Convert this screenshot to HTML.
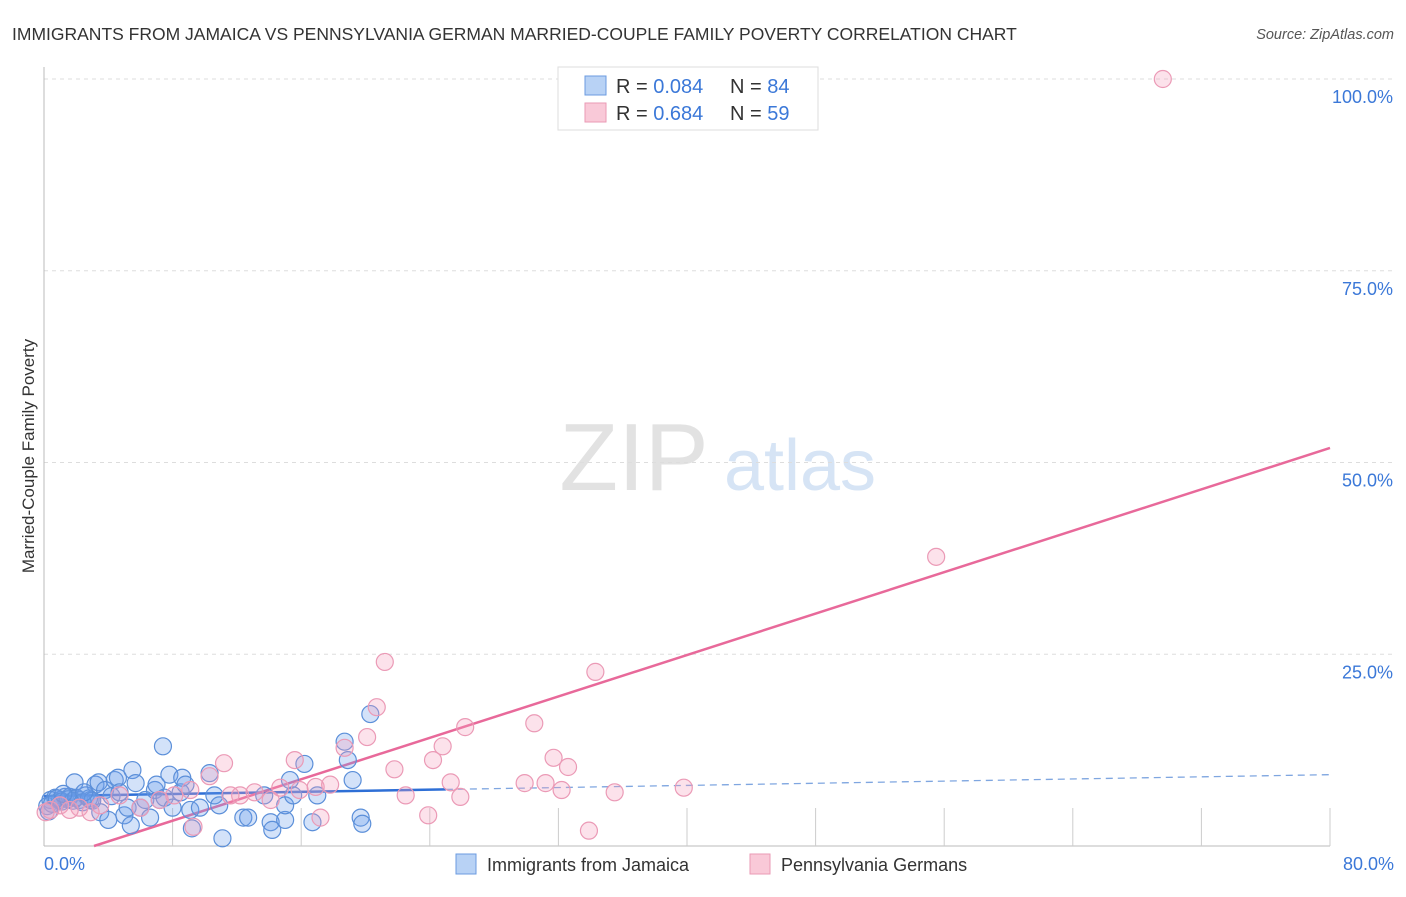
<!DOCTYPE html>
<html><head><meta charset="utf-8"><style>
body{margin:0;background:#fff;font-family:"Liberation Sans",sans-serif;}
svg text{font-family:"Liberation Sans",sans-serif;}
</style></head><body>
<svg id="chart" width="1406" height="892" xmlns="http://www.w3.org/2000/svg">
<text x="12" y="40" font-size="17.5" fill="#333">IMMIGRANTS FROM JAMAICA VS PENNSYLVANIA GERMAN MARRIED-COUPLE FAMILY POVERTY CORRELATION CHART</text>
<text x="1394" y="39" font-size="14.5" fill="#555" font-style="italic" text-anchor="end">Source: ZipAtlas.com</text>
<text transform="translate(34,456) rotate(-90)" font-size="17" fill="#333" text-anchor="middle">Married-Couple Family Poverty</text>
<g>
<text x="634" y="490" font-size="96" fill="#e2e2e2" text-anchor="middle" font-family="Liberation Serif, serif">ZIP</text>
<text x="800" y="490" font-size="72" fill="#d6e4f5" text-anchor="middle">atlas</text>
</g>
<g id="grid"></g><g id="axes"></g><g id="trend"></g><g id="points"></g>
<g>
<rect x="558" y="67" width="260" height="63" fill="#fff" stroke="#ddd"/>
<rect x="585" y="76" width="21" height="19" fill="#b8d2f5" stroke="#6b9be0"/>
<rect x="585" y="103" width="21" height="19" fill="#f9c9d8" stroke="#ea9ab5"/>
<text x="616" y="93" font-size="20" fill="#333">R = <tspan fill="#3b78d8">0.084</tspan></text>
<text x="730" y="93" font-size="20" fill="#333">N = <tspan fill="#3b78d8">84</tspan></text>
<text x="616" y="120" font-size="20" fill="#333">R = <tspan fill="#3b78d8">0.684</tspan></text>
<text x="730" y="120" font-size="20" fill="#333">N = <tspan fill="#3b78d8">59</tspan></text>
</g>
<g>
<rect x="456" y="854" width="20" height="20" fill="#b8d2f5" stroke="#6b9be0"/>
<text x="487" y="871" font-size="18" fill="#333">Immigrants from Jamaica</text>
<rect x="750" y="854" width="20" height="20" fill="#f9c9d8" stroke="#ea9ab5"/>
<text x="781" y="871" font-size="18" fill="#333">Pennsylvania Germans</text>
</g>
</svg>
<script>
const yTicks=[25,50,75,100];
const yTickLabels=["25.0%","50.0%","75.0%","100.0%"];
const xTickVals=[8,16,24,32,40,48,56,64,72,80];
const xEndLabels=["0.0%","80.0%"];
const blueX=[0.2,0.4,0.7,1.0,1.3,1.6,1.9,2.2,2.6,2.9,3.2,3.4,3.5,3.8,4.0,4.2,4.4,4.6,4.7,5.0,5.2,5.4,5.5,5.7,6.0,6.3,6.6,6.9,7.0,7.2,7.4,7.5,7.8,8.0,8.5,8.6,8.8,9.1,9.2,9.7,10.3,10.6,11.1,10.9,12.4,12.7,13.7,14.1,14.2,15.0,15.0,15.3,15.5,16.2,16.7,17.0,18.7,18.9,19.2,19.7,19.8,20.3,0.5,0.8,1.1,1.5,1.8,2.0,2.4,2.8,3.0,0.3,1.2,2.5];
const blueY=[5.2,6.0,6.3,6.0,6.4,6.4,8.3,6.0,6.6,6.0,8.0,8.3,4.4,7.3,3.4,6.5,8.6,8.9,7.0,4.0,5.0,2.7,9.9,8.2,5.0,6.0,3.7,7.3,8.0,6.0,13.0,6.3,9.3,5.0,7.0,8.9,8.0,4.7,2.3,5.0,9.5,6.6,1.0,5.3,3.7,3.7,6.6,3.1,2.1,3.4,5.3,8.6,6.6,10.7,3.1,6.6,13.6,11.2,8.6,3.7,2.9,17.2,5.5,6.2,5.8,6.1,5.9,6.3,5.7,6.2,5.9,4.5,6.8,7.0];
const pinkX=[69.6,55.5,34.3,21.2,20.7,30.5,26.2,20.1,24.8,18.7,31.7,32.6,15.6,11.2,24.2,21.8,10.3,25.3,22.5,29.9,31.2,32.2,35.5,39.8,25.9,17.2,23.9,33.9,9.3,14.1,12.2,13.1,14.7,15.9,16.9,17.8,9.1,7.2,4.7,3.5,2.2,1.0,0.4,6.0,8.1,11.6,0.1,1.6,2.9];
const pinkY=[100,37.7,22.7,24.0,18.1,16.0,15.5,14.2,13.0,12.8,11.5,10.3,11.2,10.8,11.2,10.0,9.1,8.3,6.6,8.2,8.2,7.3,7.0,7.6,6.4,3.7,4.0,2.0,2.5,6.0,6.6,7.0,7.6,7.3,7.7,8.0,7.3,6.0,6.6,5.3,5.0,5.3,4.7,5.0,6.6,6.6,4.4,4.7,4.4];
const blueTrend=[6.5,9.3];
const pinkTrend=[-2.1,51.9];
const blueSolidEnd=25;

const NS="http://www.w3.org/2000/svg";
const X0=44,X1=1330,Y0=846,Y100=79;
function sx(v){return X0+v/80*(X1-X0);}
function sy(v){return Y0-v/100*(Y0-Y100);}
function mk(tag,attrs,parent){const e=document.createElementNS(NS,tag);for(const k in attrs)e.setAttribute(k,attrs[k]);parent.appendChild(e);return e;}
const grid=document.getElementById('grid'),axes=document.getElementById('axes'),trend=document.getElementById('trend'),pts=document.getElementById('points');
yTicks.forEach((t,i)=>{
  const l=mk('line',{x1:X0,x2:1394,y1:sy(t),y2:sy(t),stroke:'#ddd','stroke-dasharray':'4,4'},grid);
  
  
  const tx=mk('text',{x:1393,y:sy(t)+24,'font-size':18,fill:'#3b78d8','text-anchor':'end'},grid);
  tx.textContent=yTickLabels[i];
  
  
});
let a=mk('line',{x1:X0,x2:X0,y1:67,y2:Y0,stroke:'#bbb'},axes);


a=mk('line',{x1:X0,x2:X1,y1:Y0,y2:Y0,stroke:'#bbb'},axes);


xTickVals.forEach(v=>{
  const t=mk('line',{x1:sx(v),x2:sx(v),y1:Y0-38,y2:Y0,stroke:'#ccc'},axes);
  
  
});
let xl=mk('text',{x:44,y:870,'font-size':18,fill:'#3b78d8'},axes);xl.textContent=xEndLabels[0];


xl=mk('text',{x:1394,y:870,'font-size':18,fill:'#3b78d8','text-anchor':'end'},axes);xl.textContent=xEndLabels[1];


function drawPts(xs,ys,fill,stroke,name){
  xs.forEach((x,i)=>{
    const c=mk('circle',{cx:sx(x),cy:sy(ys[i]),r:8.5,fill:fill,stroke:stroke,'stroke-width':1.2},pts);
    
    
  });
}
drawPts(blueX,blueY,'rgba(110,160,235,0.3)','#5b8fd9','jamaica-point');
drawPts(pinkX,pinkY,'rgba(245,160,190,0.3)','#eb9ab6','pa-german-point');
function bl(v){return blueTrend[0]+(blueTrend[1]-blueTrend[0])*v/80;}
let tl=mk('line',{x1:sx(0),y1:sy(bl(0)),x2:sx(blueSolidEnd),y2:sy(bl(blueSolidEnd)),stroke:'#2e6fd6','stroke-width':2.5},trend);


tl=mk('line',{x1:sx(blueSolidEnd),y1:sy(bl(blueSolidEnd)),x2:sx(80),y2:sy(bl(80)),stroke:'#7fa6e0','stroke-width':1.3,'stroke-dasharray':'7,5'},trend);


const px0=-pinkTrend[0]/(pinkTrend[1]-pinkTrend[0])*80;
const xs0=Math.max(0,px0);
function pl(v){return pinkTrend[0]+(pinkTrend[1]-pinkTrend[0])*v/80;}
tl=mk('line',{x1:sx(xs0),y1:sy(pl(xs0)),x2:sx(80),y2:sy(pl(80)),stroke:'#e8699a','stroke-width':2.5},trend);


</script>
</body></html>
